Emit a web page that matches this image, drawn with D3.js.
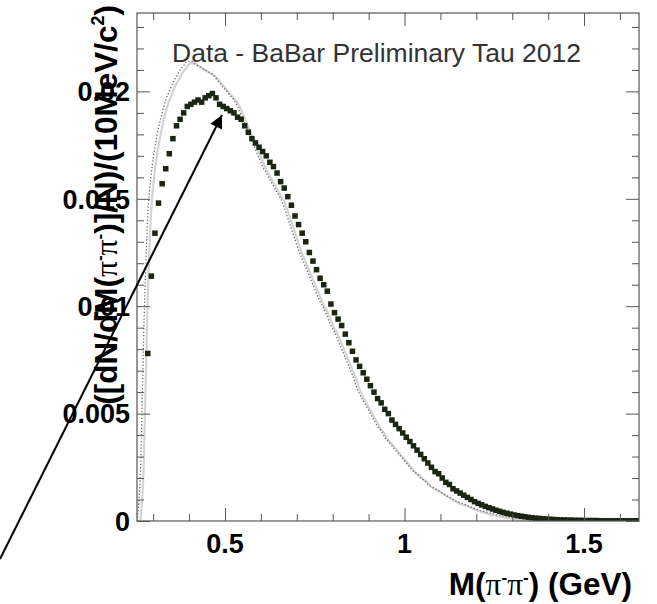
<!DOCTYPE html>
<html>
<head>
<meta charset="utf-8">
<script src="https://cdn.jsdelivr.net/npm/d3@7"></script>
<style>
  body { margin: 0; background: #fff; }
  svg { display: block; font-family: "Liberation Sans", Arial, sans-serif; }
</style>
</head>
<body>
<svg width="657" height="604"></svg>
<script>
// measured data, 10 MeV bins, first bin centre 0.285 GeV
var dataStart = 0.285;
var dataValues = [
  0.0078, 0.0114, 0.0134, 0.0148, 0.0157, 0.0164, 0.0171, 0.0178, 0.0184, 0.0187,
  0.0190, 0.0193, 0.0194, 0.0195, 0.0196, 0.0195, 0.0197, 0.0198, 0.0199, 0.0197,
  0.0194, 0.0193, 0.0192, 0.0191, 0.0190, 0.0188, 0.0187, 0.0184, 0.0181, 0.0178,
  0.0176, 0.0174, 0.0172, 0.0170, 0.0167, 0.0165, 0.0162, 0.0158, 0.0155, 0.0151,
  0.0147, 0.0142, 0.0138, 0.0134, 0.0130, 0.0125, 0.0121, 0.0117, 0.0113, 0.0110,
  0.0107, 0.0101, 0.0097, 0.0094, 0.0091, 0.0087, 0.0083, 0.0079, 0.0075, 0.0072,
  0.0069, 0.0066, 0.0063, 0.0060, 0.0057, 0.0055, 0.0052, 0.0050, 0.0047, 0.0045,
  0.0043, 0.0041, 0.0039, 0.0037, 0.0035, 0.0033, 0.0031, 0.0029, 0.0027, 0.0025,
  0.0023, 0.0022, 0.0020, 0.0018, 0.0017, 0.0015, 0.0014, 0.0013, 0.0012, 0.0011,
  0.0010, 0.0009, 0.00082, 0.00075, 0.00068, 0.00062, 0.00056, 0.0005, 0.00045, 0.0004,
  0.00036, 0.00032, 0.00028, 0.00025, 0.00022, 0.0002, 0.00017, 0.00015, 0.00013, 0.00012,
  0.0001, 0.00009, 0.00008, 0.00007, 0.00006, 0.00005, 0.00005, 0.00004, 0.00004, 0.00003,
  0.00003, 0.00003, 0.00002, 0.00002, 0.00002, 0.00002, 0.00001, 0.00001, 0.00001, 0.00001,
  0.00001, 0.00001, 0.00001, 0.00001, 0.00001, 0.00001, 0.00001
];

// grey reference curve, first bin centre 0.255 GeV
var mcStart = 0.255;
var mcValues = [
  0.0,
  0.0025, 0.0095, 0.0142, 0.0162, 0.0174, 0.0183, 0.0190, 0.0196, 0.0200, 0.0204,
  0.0207, 0.0210, 0.0212, 0.0214, 0.0214, 0.0213, 0.0212, 0.0211, 0.0210, 0.0209,
  0.0208, 0.0206, 0.0204, 0.0202, 0.0200, 0.0198, 0.0196, 0.0193, 0.0189, 0.0185,
  0.0181, 0.0177, 0.0173, 0.0169, 0.0165, 0.0162, 0.0159, 0.0156, 0.0153, 0.0150,
  0.0146, 0.0141, 0.0136, 0.0131, 0.0126, 0.0122, 0.0118, 0.0114, 0.0110, 0.0106,
  0.0102, 0.0099, 0.0095, 0.0091, 0.0088, 0.0084, 0.0080, 0.0076, 0.0072, 0.0068,
  0.0063, 0.0059, 0.0056, 0.0053, 0.0050, 0.0047, 0.0044, 0.0042, 0.0039, 0.0037,
  0.0035, 0.0033, 0.0031, 0.0029, 0.0027, 0.0025, 0.0023, 0.0022, 0.0020, 0.0019,
  0.0017, 0.0016, 0.0015, 0.0014, 0.0013, 0.0012, 0.0011, 0.0010, 0.0009, 0.00085,
  0.0008, 0.00072, 0.00065, 0.00058, 0.00052, 0.00047, 0.00042, 0.00038, 0.00034, 0.0003,
  0.00027, 0.00024, 0.00021, 0.00019, 0.00017, 0.00015, 0.00013, 0.00012, 0.0001, 0.00009,
  0.00008, 0.00007, 0.00006, 0.00005, 0.00005, 0.00004, 0.00004, 0.00003, 0.00003, 0.00003,
  0.00002, 0.00002, 0.00002, 0.00002, 0.00001, 0.00001, 0.00001, 0.00001, 0.00001, 0.00001,
  0.00001, 0.00001, 0.00001, 0, 0, 0, 0, 0, 0
];

var binWidth = 0.01;
var xMajor = [0.5, 1, 1.5];
var xMinor = [0.3, 0.4, 0.6, 0.7, 0.8, 0.9, 1.1, 1.2, 1.3, 1.4, 1.6];
var yMajor = [0, 0.005, 0.01, 0.015, 0.02];
var yMinor = [0.001, 0.002, 0.003, 0.004, 0.006, 0.007, 0.008, 0.009, 0.011, 0.012,
              0.013, 0.014, 0.016, 0.017, 0.018, 0.019, 0.021, 0.022, 0.023];
var xLabels = ["0.5", "1", "1.5"];
var yLabels = ["0", "0.005", "0.01", "0.015", "0.02"];

// annotation arrow, in data units
var arrowFrom = [-0.1265, -0.00177];
var arrowTo = [0.4917, 0.0189];

var svg = d3.select("svg"),
  margin = { top: 13, right: 18, bottom: 83, left: 137 },
  width = +svg.attr("width") - margin.left - margin.right,
  height = +svg.attr("height") - margin.top - margin.bottom;

svg.append("rect").attr("width", 657).attr("height", 604).attr("fill", "#fff");

var x = d3.scaleLinear().domain([0.255, 1.653]).range([0, width]);
var y = d3.scaleLinear().domain([0, 0.02365]).range([height, 0]);

var g = svg.append("g")
  .attr("transform", "translate(" + margin.left + "," + margin.top + ")");

var dataPts = dataValues.map(function(v, i) {
  return { m: dataStart + i * binWidth, v: v };
});
var mcPts = mcValues.map(function(v, i) {
  return { m: mcStart + i * binWidth, v: v };
});

g.append("clipPath").attr("id", "clip")
  .append("rect").attr("width", width).attr("height", height);

var plot = g.append("g").attr("clip-path", "url(#clip)");

var line = d3.line()
  .curve(d3.curveMonotoneX)
  .x(function(d) { return x(d.m); })
  .y(function(d) { return y(d.v); });

// grey reference curve: pale band plus dotted line
plot.append("path")
  .datum(mcPts)
  .attr("d", line)
  .attr("fill", "none")
  .attr("stroke", "#d4d4d4")
  .attr("stroke-width", 2.2)
  .attr("transform", "translate(3,2)");

plot.append("path")
  .datum(mcPts)
  .attr("d", line)
  .attr("fill", "none")
  .attr("stroke", "#6d6d6d")
  .attr("stroke-width", 1.3)
  .attr("stroke-dasharray", "1.3,2");

// data squares
var sq = 5.5;
plot.selectAll(".pt")
  .data(dataPts)
  .enter()
  .append("rect")
  .attr("class", "pt")
  .attr("x", function(d) { return x(d.m) - sq / 2; })
  .attr("y", function(d) { return y(d.v) - sq / 2; })
  .attr("width", sq)
  .attr("height", sq)
  .attr("fill", "#1a2512");

// frame and ticks
var frameColor = "#555";
function ticks(axisFn, vals, size) {
  return axisFn.tickValues(vals).tickSize(size).tickFormat("");
}
[{ fn: d3.axisBottom, tr: "translate(0," + height + ")" }, { fn: d3.axisTop, tr: "translate(0,0)" }]
  .forEach(function(a) {
    [[xMajor, 13], [xMinor, 7]].forEach(function(t) {
      var ag = g.append("g").attr("transform", a.tr)
        .call(ticks(a.fn(x), t[0], -t[1]));
      ag.select(".domain").remove();
      ag.selectAll("line").attr("stroke", frameColor);
    });
  });
[{ fn: d3.axisLeft, tr: "translate(0,0)" }, { fn: d3.axisRight, tr: "translate(" + width + ",0)" }]
  .forEach(function(a) {
    [[yMajor, 13], [yMinor, 7]].forEach(function(t) {
      var ag = g.append("g").attr("transform", a.tr)
        .call(ticks(a.fn(y), t[0], -t[1]));
      ag.select(".domain").remove();
      ag.selectAll("line").attr("stroke", frameColor);
    });
  });

g.append("rect")
  .attr("width", width).attr("height", height)
  .attr("fill", "none").attr("stroke", frameColor).attr("stroke-width", 1.2);

// tick labels
g.selectAll(".xlab")
  .data(xMajor)
  .enter()
  .append("text")
  .attr("x", function(d) { return x(d); })
  .attr("y", height + 32)
  .attr("text-anchor", "middle")
  .attr("font-weight", "bold")
  .attr("font-size", 27)
  .text(function(d, i) { return xLabels[i]; });

g.selectAll(".ylab")
  .data(yMajor)
  .enter()
  .append("text")
  .attr("x", -7)
  .attr("y", function(d) { return y(d); })
  .attr("dy", "0.36em")
  .attr("text-anchor", "end")
  .attr("font-weight", "bold")
  .attr("font-size", 27)
  .text(function(d, i) { return yLabels[i]; });

// x title
var xt = svg.append("text")
  .attr("x", 632)
  .attr("y", 595)
  .attr("text-anchor", "end")
  .attr("font-weight", "bold")
  .attr("font-size", 31.5);
xt.append("tspan").text("M(");
xt.append("tspan").attr("font-family", "Liberation Serif").attr("font-weight", "normal").text("π");
xt.append("tspan").attr("font-size", 17).attr("dy", -12).text("-");
xt.append("tspan").attr("dy", 12).attr("font-family", "Liberation Serif").attr("font-weight", "normal").text("π");
xt.append("tspan").attr("font-size", 17).attr("dy", -12).text("-");
xt.append("tspan").attr("dy", 12).text(") (GeV)");

// y title
var yt = svg.append("text")
  .attr("transform", "translate(117,5) rotate(-90)")
  .attr("text-anchor", "end")
  .attr("font-weight", "bold")
  .attr("font-size", 31.5);
yt.append("tspan").text("([dN/dM(");
yt.append("tspan").attr("font-family", "Liberation Serif").attr("font-weight", "normal").text("π");
yt.append("tspan").attr("font-size", 17).attr("dy", -12).text("-");
yt.append("tspan").attr("dy", 12).attr("font-family", "Liberation Serif").attr("font-weight", "normal").text("π");
yt.append("tspan").attr("font-size", 17).attr("dy", -12).text("-");
yt.append("tspan").attr("dy", 12).text(")]/N)/(10MeV/c");
yt.append("tspan").attr("font-size", 18).attr("dy", -13).text("2");
yt.append("tspan").attr("dy", 13).text(")");

// label
g.append("text")
  .attr("x", 35)
  .attr("y", 49)
  .attr("font-size", 26.5)
  .attr("fill", "#333")
  .text("Data - BaBar Preliminary Tau 2012");

// arrow
svg.append("defs").append("marker")
  .attr("id", "head")
  .attr("viewBox", "0 0 10 10")
  .attr("refX", 10).attr("refY", 5)
  .attr("markerWidth", 9).attr("markerHeight", 6.5)
  .attr("markerUnits", "strokeWidth")
  .attr("orient", "auto")
  .append("path").attr("d", "M0,0L10,5L0,10z").attr("fill", "#000");

g.append("line")
  .attr("x1", x(arrowFrom[0])).attr("y1", y(arrowFrom[1]))
  .attr("x2", x(arrowTo[0])).attr("y2", y(arrowTo[1]))
  .attr("stroke", "#000")
  .attr("stroke-width", 2)
  .attr("marker-end", "url(#head)");
</script>
</body>
</html>
